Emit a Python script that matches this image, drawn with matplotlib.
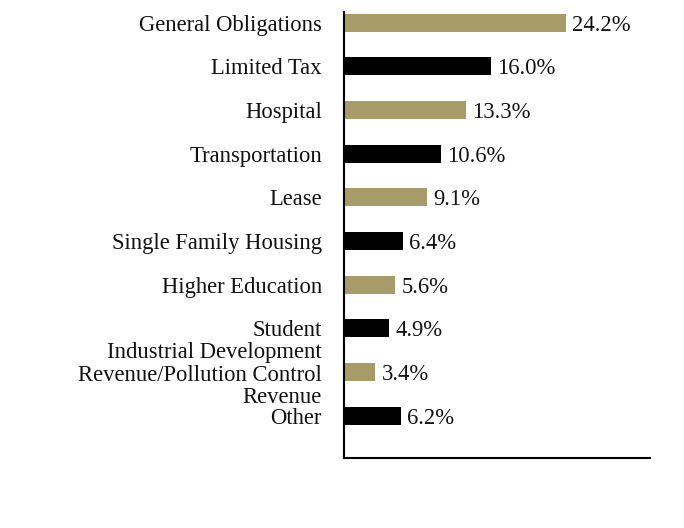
import matplotlib
matplotlib.use('Agg')
import matplotlib.pyplot as plt
import numpy as np

categories = [
    'General Obligations',
    'Limited Tax',
    'Hospital',
    'Transportation',
    'Lease',
    'Single Family Housing',
    'Higher Education',
    'Student',
    'Industrial Development\nRevenue/Pollution Control\nRevenue',
    'Other',
]
values = [24.2, 16.0, 13.3, 10.6, 9.1, 6.4, 5.6, 4.9, 3.4, 6.2]

GOLD = '#A89B6A'
BLACK = '#000000'


def main():
    plt.rcParams['font.family'] = ['Liberation Serif', 'DejaVu Serif']
    fig = plt.figure(figsize=(6.84, 5.28), dpi=100)
    ax = fig.add_axes([0.503, 0.1326, 0.447, 0.845])

    n = len(values)
    y = np.arange(n)[::-1]
    colors = [GOLD if i % 2 == 0 else BLACK for i in range(n)]
    ax.barh(y, values, height=0.41, color=colors)

    for yi, v in zip(y, values):
        ax.annotate(f'{v:.1f}%', (v, yi), xytext=(4.5, 0), textcoords='offset points',
                    va='center_baseline', ha='left', fontsize=16.3, color='#111111')

    ax.set_yticks(y)
    ax.set_yticklabels(categories, fontsize=16.3, color='#111111', linespacing=1.08)
    ax.tick_params(axis='y', length=0, pad=16)
    ax.set_xticks([])
    ax.set_xlim(0, 33.4)
    ax.set_ylim(-0.97, 9.25)
    for s in ['top', 'right']:
        ax.spines[s].set_visible(False)
    for s in ['left', 'bottom']:
        ax.spines[s].set_linewidth(1.5)

    fig.savefig('out.png', dpi=100)


if __name__ == '__main__':
    main()
